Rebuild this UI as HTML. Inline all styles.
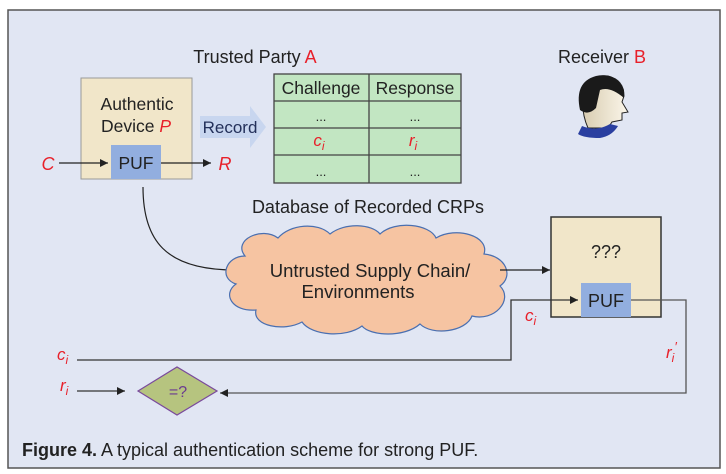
<!DOCTYPE html>
<html><head><meta charset="utf-8"><style>
body{margin:0;width:726px;height:474px;background:#fff;overflow:hidden}
svg{display:block;font-family:"Liberation Sans",sans-serif}
</style></head><body>
<svg width="726" height="474" viewBox="0 0 726 474">
<defs>
<marker id="a" viewBox="0 0 10 10" refX="10" refY="5" markerWidth="8" markerHeight="8" orient="auto" markerUnits="userSpaceOnUse"><path d="M0,0L10,5L0,10z" fill="#222"/></marker>
<linearGradient id="face" x1="0" x2="1"><stop offset="0" stop-color="#d8ccb0"/><stop offset="1" stop-color="#fbf6ea"/></linearGradient>
</defs>
<rect x="8" y="10" width="712" height="458" fill="#e1e6f3" stroke="#555" stroke-width="1.5"/>
<text x="255" y="63" font-size="18" text-anchor="middle" fill="#222">Trusted Party <tspan fill="#e8202a">A</tspan></text>
<text x="602" y="63" font-size="18" text-anchor="middle" fill="#222">Receiver <tspan fill="#e8202a">B</tspan></text>
<rect x="81" y="78" width="111" height="101" fill="#f1e6c9" stroke="#999"/>
<text x="137" y="110" font-size="17.5" text-anchor="middle" fill="#222">Authentic</text>
<text x="136" y="132" font-size="17.5" text-anchor="middle" fill="#222">Device <tspan fill="#e8202a" font-style="italic">P</tspan></text>
<rect x="111" y="145" width="50" height="34" fill="#92aedf"/>
<text x="136" y="169" font-size="17.5" text-anchor="middle" fill="#222">PUF</text>
<text x="48" y="170" font-size="18" font-style="italic" text-anchor="middle" fill="#e8202a">C</text>
<line x1="59" y1="163" x2="108" y2="163" stroke="#222" stroke-width="1.3" marker-end="url(#a)"/>
<line x1="161" y1="163" x2="211" y2="163" stroke="#222" stroke-width="1.3" marker-end="url(#a)"/>
<text x="225" y="170" font-size="18" font-style="italic" text-anchor="middle" fill="#e8202a">R</text>
<path d="M200,116H250V106L266,127L250,148V138H200z" fill="#c8d6ef"/>
<text x="230" y="133" font-size="17" text-anchor="middle" fill="#23305a">Record</text>
<rect x="274" y="74" width="187" height="109" fill="#c2e6c2" stroke="#444" stroke-width="1.3"/>
<line x1="274" y1="101" x2="461" y2="101" stroke="#444" stroke-width="1.3"/>
<line x1="274" y1="128" x2="461" y2="128" stroke="#444" stroke-width="1.3"/>
<line x1="274" y1="155" x2="461" y2="155" stroke="#444" stroke-width="1.3"/>
<line x1="369" y1="74" x2="369" y2="183" stroke="#444" stroke-width="1.3"/>
<text x="321" y="94" font-size="17.5" text-anchor="middle" fill="#222">Challenge</text>
<text x="415" y="94" font-size="17.5" text-anchor="middle" fill="#222">Response</text>
<text x="321" y="121" font-size="13" text-anchor="middle" fill="#222">...</text>
<text x="415" y="121" font-size="13" text-anchor="middle" fill="#222">...</text>
<text x="321" y="176" font-size="13" text-anchor="middle" fill="#222">...</text>
<text x="415" y="176" font-size="13" text-anchor="middle" fill="#222">...</text>
<text x="319" y="146" font-size="17" font-style="italic" text-anchor="middle" fill="#e8202a">c<tspan font-size="12" dy="4">i</tspan></text>
<text x="413" y="146" font-size="17" font-style="italic" text-anchor="middle" fill="#e8202a">r<tspan font-size="12" dy="4">i</tspan></text>
<text x="368" y="213" font-size="18" text-anchor="middle" fill="#222">Database of Recorded CRPs</text>
<path d="M584,90 Q590,74 608,76 Q624,80 624,96 L622,102 L628,112 L622,113 L622,120 L612,122 L608,128 L588,128 Q580,110 584,90z" fill="url(#face)" stroke="#222"/>
<path d="M580,110 Q574,82 596,76 Q616,72 624,90 L624,98 Q610,86 600,90 L596,108 Q588,116 580,110z" fill="#1a1a1a"/>
<path d="M582,126 Q596,132 610,124 L618,126 Q612,136 600,138 Q584,138 578,134z" fill="#2a3fa0"/>
<path d="M143,187 C143,240 165,270 235,270" fill="none" stroke="#222" stroke-width="1.2"/>
<path d="M245,256 C232,240 262,226 278,238 C290,224 318,222 330,234 C345,222 372,224 380,234 C395,220 430,224 436,238 C456,226 490,236 484,254 C506,256 514,276 500,286 C514,300 494,322 472,316 C466,332 432,336 420,324 C404,338 370,336 362,326 C346,338 312,336 302,322 C284,332 252,326 256,310 C232,312 222,294 236,284 C218,278 226,256 245,256z" fill="#f6c4a2" stroke="#4a6fb0" stroke-width="1.2"/>
<text x="370" y="277" font-size="18.5" text-anchor="middle" fill="#222">Untrusted Supply Chain/</text>
<text x="358" y="298" font-size="18.5" text-anchor="middle" fill="#222">Environments</text>
<line x1="500" y1="270" x2="550" y2="270" stroke="#222" stroke-width="1.3" marker-end="url(#a)"/>
<rect x="551" y="217" width="110" height="100" fill="#f1e6c9" stroke="#333" stroke-width="1.5"/>
<text x="606" y="258" font-size="18" text-anchor="middle" fill="#222">???</text>
<rect x="581" y="283" width="50" height="34" fill="#92aedf"/>
<text x="606" y="307" font-size="18" text-anchor="middle" fill="#222">PUF</text>
<polyline points="77,360 511,360 511,300 578,300" fill="none" stroke="#333" stroke-width="1.3" marker-end="url(#a)"/>
<polyline points="631,300 686,300 686,393 220,393" fill="none" stroke="#555" stroke-width="1.3" marker-end="url(#a)"/>
<text x="525" y="321" font-size="17" font-style="italic" fill="#e8202a">c<tspan font-size="12" dy="4">i</tspan></text>
<text x="666" y="358" font-size="17" font-style="italic" fill="#e8202a">r<tspan font-size="12" dy="4">i</tspan><tspan dy="-11" font-size="13">′</tspan></text>
<text x="57" y="360" font-size="17" font-style="italic" fill="#e8202a">c<tspan font-size="12" dy="4">i</tspan></text>
<text x="60" y="391" font-size="17" font-style="italic" fill="#e8202a">r<tspan font-size="12" dy="4">i</tspan></text>
<line x1="77" y1="391" x2="125" y2="391" stroke="#333" stroke-width="1.3" marker-end="url(#a)"/>
<path d="M138,391L177,367L217,391L177,415z" fill="#b6c47f" stroke="#7a4a9c" stroke-width="1.2"/>
<text x="178" y="397" font-size="16" text-anchor="middle" fill="#6a3a90">=?</text>
<text x="22" y="456" font-size="18" fill="#222"><tspan font-weight="bold">Figure 4.</tspan> A typical authentication scheme for strong PUF.</text>
</svg>
</body></html>
